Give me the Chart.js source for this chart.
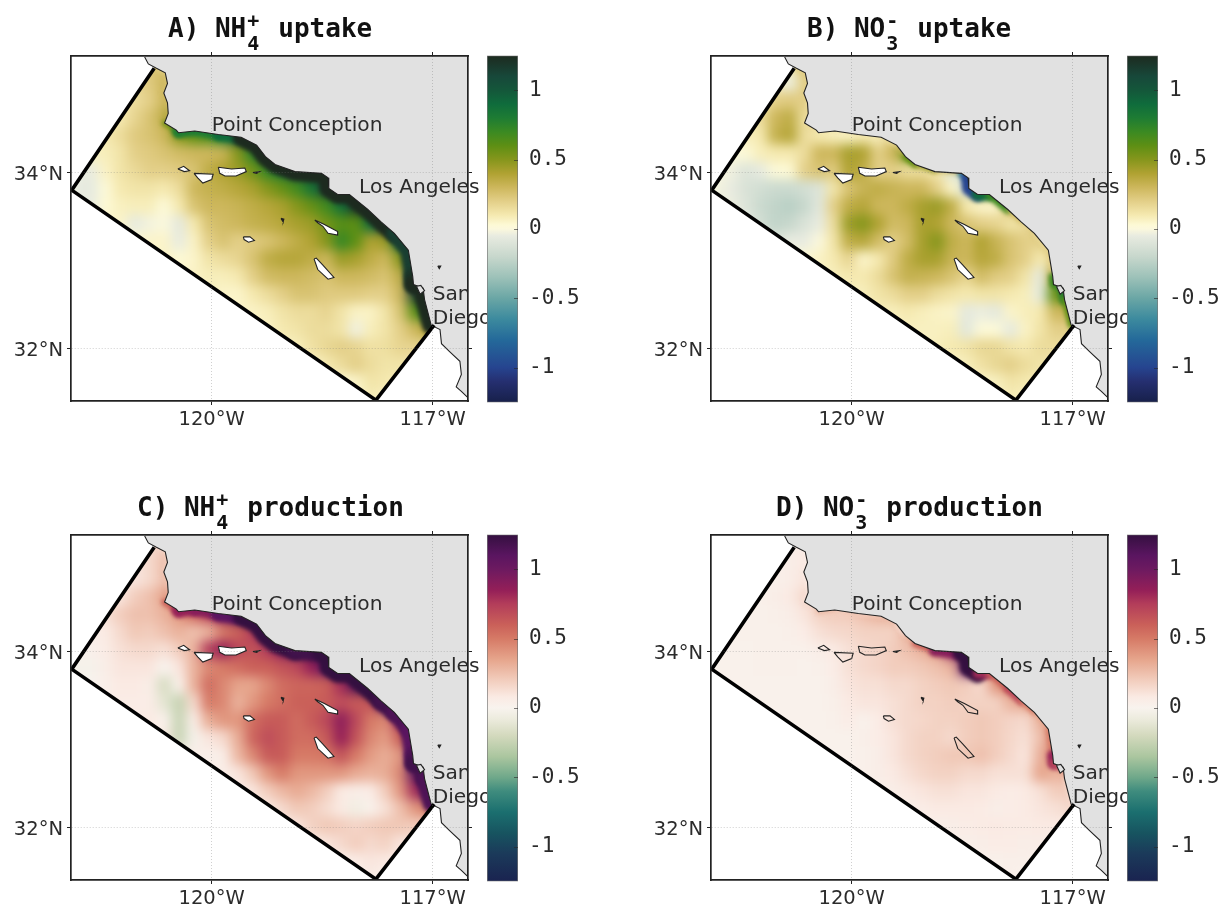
<!DOCTYPE html>
<html>
<head>
<meta charset="utf-8">
<title>NH4 and NO3 uptake and production</title>
<script src="https://cdn.jsdelivr.net/npm/chart.js@4"></script>
<style>
  body { margin: 0; background: #fff; }
  canvas { position: absolute; }
</style>
</head>
<body>
<script>
// tick labels
const lonTicks = [-120, -117];
const lonLabels = ['120°W', '117°W'];
const latTicks = [32, 34];
const latLabels = ['32°N', '34°N'];
const barTicks = [-1, -0.5, 0, 0.5, 1];

// place names
const placeNames = ['Point Conception', 'Los Angeles', 'San', 'Diego'];
const placeLon = [-120, -118, -117, -117];
const placeLat = [34.47, 33.77, 32.557, 32.285];

// model domain edge
const domainLon = [-120.78, -121.9, -117.77, -116.98];
const domainLat = [35.18, 33.8, 31.42, 32.27];
// the open side of the domain runs under the land
const openLon = [-116.5, -116.5, -120.78];
const openLat = [32.27, 35.32, 35.32];

// coastline, north to south
const coastLon = [-120.91, -120.86, -120.75, -120.63, -120.6, -120.65, -120.6, -120.59, -120.64, -120.48, -120.45, -120.23, -119.91, -119.6, -119.39, -119.27, -119.14, -118.87, -118.51, -118.42, -118.41, -118.29, -118.13, -117.88, -117.7, -117.52, -117.33, -117.27, -117.26, -117.13, -117.11, -117.02, -116.9, -116.88, -116.77, -116.63, -116.61, -116.68, -116.61, -116.51];
const coastLat = [35.31, 35.23, 35.18, 35.13, 35.01, 34.9, 34.79, 34.67, 34.56, 34.48, 34.45, 34.47, 34.43, 34.4, 34.31, 34.18, 34.09, 34.01, 33.99, 33.94, 33.82, 33.75, 33.75, 33.58, 33.44, 33.31, 33.12, 32.82, 32.73, 32.69, 32.56, 32.27, 32.22, 32.06, 31.97, 31.86, 31.71, 31.57, 31.52, 31.44];

// islands as lon,lat rings
const islandRings = [
  [[-120.46, 34.04], [-120.38, 34.07], [-120.3, 34.02], [-120.37, 34.01]],
  [[-120.24, 33.99], [-119.98, 33.98], [-120, 33.92], [-120.12, 33.88], [-120.19, 33.94]],
  [[-119.91, 34.06], [-119.73, 34.04], [-119.55, 34.05], [-119.53, 34.01], [-119.67, 33.96], [-119.82, 33.96], [-119.89, 33.99]],
  [[-119.44, 34], [-119.35, 34.01], [-119.39, 33.99]],
  [[-119.57, 33.27], [-119.48, 33.27], [-119.42, 33.23], [-119.5, 33.21], [-119.56, 33.24]],
  [[-118.6, 33.46], [-118.47, 33.41], [-118.29, 33.33], [-118.29, 33.29], [-118.42, 33.31], [-118.49, 33.39], [-118.56, 33.43]],
  [[-118.61, 33.02], [-118.56, 32.9], [-118.42, 32.79], [-118.34, 32.81], [-118.49, 32.95], [-118.58, 33.03]]
];
const rockRing = [[-119.06, 33.48], [-119.02, 33.47], [-119.03, 33.44]];
const bayRing = [[-117.22, 32.71], [-117.16, 32.72], [-117.11, 32.66], [-117.17, 32.62]];
const inlandDot = [[-116.93, 32.94], [-116.89, 32.94], [-116.91, 32.91]];

// field grid: lon and lat of the cells, and first column of every row
const gridLon = [-122, -121.8, -121.6, -121.4, -121.2, -121, -120.8, -120.6, -120.4, -120.2, -120, -119.8, -119.6, -119.4, -119.2, -119, -118.8, -118.6, -118.4, -118.2, -118, -117.8, -117.6, -117.4, -117.2, -117, -116.8];
const gridLat = [35.2, 35, 34.8, 34.6, 34.4, 34.2, 34, 33.8, 33.6, 33.4, 33.2, 33, 32.8, 32.6, 32.4, 32.2, 32, 31.8, 31.6, 31.4];
const rowStart = [5, 4, 3, 2, 1, 0, 0, 0, 1, 3, 4, 6, 8, 10, 11, 13, 15, 17, 19, 20];

// A) NH4 uptake
const uptakeNH4 = [
  [.15,.25,.25],
  [.15,.17,.22,.3],
  [.1,.1,.15,.2,.3],
  [.08,.08,.1,.18,.25,.35,.6],
  [.05,.07,.1,.15,.22,.25,.3,.5,.6,.65,.8,1.1,1.25],
  [.05,.05,.07,.08,.12,.2,.22,.25,.28,.3,.3,.32,.5,.75,1.2,1.25],
  [.02,-.04,-.05,.06,.12,.16,.2,.2,.22,.25,.35,.4,.45,.55,.72,.85,1.1,1.25,1.25,1.25],
  [0,-.05,-.06,.02,.1,.12,.12,.1,.15,.3,.33,.35,.38,.42,.5,.58,.68,.85,1.15,1.25,1.25],
  [-.04,-.05,.03,.07,.08,.08,.02,.1,.25,.3,.3,.32,.35,.38,.42,.5,.58,.68,.88,1.2,1.25,1.25],
  [.05,.05,-.06,-.02,0,-.07,.1,.25,.28,.3,.33,.35,.38,.42,.45,.55,.62,.6,.9,1.2,1.25],
  [.05,.03,.05,.05,-.05,.06,.2,.25,.2,.22,.25,.3,.35,.4,.5,.72,.6,.4,.45,.95,1.25],
  [.05,.06,.03,.05,.12,.15,.18,.25,.35,.38,.38,.35,.3,.45,.42,.35,.3,.5,1.2,1.25],
  [.05,.06,.08,.08,.1,.2,.28,.3,.3,.28,.25,.3,.3,.28,.25,.35,1.1,1.25],
  [.07,.05,.05,.1,.15,.2,.25,.25,.22,.22,.22,.2,.2,.3,1.15,1.25],
  [.06,.05,.06,.08,.12,.15,.15,.18,.12,.06,.06,.12,.25,.6,.9],
  [.06,.06,.1,.12,.15,.15,.12,-.03,.08,.12,.2,.3,.4],
  [.05,.08,.13,.17,.2,.18,.13,.14,.18,.18],
  [.05,.1,.15,.2,.15,.12,.12],
  [.03,.05,.12,.1],
  [.05,.08]
];

// B) NO3 uptake
const uptakeNO3 = [
  [.05,.1,.25],
  [.05,.05,-.04,.2],
  [.06,.08,.2,.22,.2],
  [.08,.1,.15,.3,.35,.15,.2],
  [.03,.06,.08,.1,.33,.38,.15,.1,.08,.06,.1,.08,.2],
  [.02,.02,.02,.02,.08,.1,.1,.15,.3,.3,.42,.4,.2,.3,.55,.5],
  [0,0,-.03,-.1,-.06,.02,.03,.2,.25,.22,.4,.35,.2,.2,.15,.15,.1,-.1,-.2,.5],
  [0,-.02,-.05,-.12,-.15,-.18,-.18,-.15,-.1,.12,.25,.32,.35,.32,.3,.3,.2,.05,-.15,.5,.4],
  [-.02,-.04,-.1,-.18,-.22,-.25,-.2,-.08,.2,.35,.38,.3,.3,.35,.42,.45,.35,.1,.05,.05,.3,.3],
  [-.05,-.15,-.22,-.2,-.12,-.05,.15,.45,.5,.4,.28,.3,.42,.4,.3,.25,.2,.18,.12,.15,.3],
  [-.05,-.1,-.05,-.05,0,.12,.35,.38,.28,.2,.28,.42,.5,.35,.3,.4,.32,.25,.2,.2,.3],
  [.02,.03,.06,.1,.18,.05,.1,.22,.35,.42,.42,.32,.3,.38,.35,.25,.2,.1,.2,.2],
  [.06,.08,.1,.1,.15,.25,.33,.32,.3,.25,.18,.28,.22,.2,.12,-.06,.4,.4],
  [.06,.08,.12,.15,.2,.2,.15,.12,.1,.12,.12,.1,.08,-.06,.6,.5],
  [.06,.08,.08,.1,.08,.06,.05,-.07,-.04,-.07,.05,.08,.1,.3,.3],
  [.06,.07,.07,.07,.08,-.08,.02,.02,-.06,.06,.12,.2,.2],
  [.05,.08,.1,.12,.17,.17,.12,.1,.15,.15],
  [.05,.08,.13,.17,.2,.15,.12],
  [.05,.07,.12,.1],
  [.06,.08]
];

// C) NH4 production
const productionNH4 = [
  [.1,.15,.2],
  [.06,.1,.15,.25],
  [.05,.08,.1,.15,.25],
  [.05,.06,.1,.2,.25,.35,.6],
  [.03,.05,.12,.2,.25,.25,.3,.4,.55,.7,.9,1.15,1.25],
  [.03,.03,.05,.07,.15,.22,.2,.25,.3,.25,.3,.5,.6,.75,1.1,1.25],
  [0,.02,.03,.06,.12,.15,.15,.12,.2,.3,.75,.85,.7,.65,.75,.9,1.15,1.25,1.25,1.25],
  [0,-.02,-.02,.05,.1,.1,.1,0,.1,.3,.45,.5,.55,.6,.6,.65,.7,.85,1.1,1.25,1.25],
  [0,0,.04,.08,.08,.05,-.18,.02,.3,.55,.45,.35,.35,.45,.55,.58,.58,.6,.8,1.15,1.25,1.25],
  [.04,.06,.06,.06,-.12,-.25,.15,.5,.45,.3,.4,.5,.55,.6,.6,.62,.68,.62,.65,1.1,1.25],
  [.05,.06,.08,.02,-.24,.05,.32,.4,.4,.55,.62,.62,.55,.62,.7,.88,.7,.5,.45,.8,1.25],
  [.05,.08,-.24,-.02,.1,.15,.32,.58,.68,.62,.55,.55,.62,.85,.65,.45,.38,.6,1.2,1.25],
  [.04,.05,.03,.05,.28,.45,.62,.62,.5,.5,.52,.65,.5,.38,.32,.4,1,1.25],
  [.05,.05,.1,.22,.4,.5,.4,.4,.4,.4,.33,.3,.32,.45,1.1,1.25],
  [.06,.06,.1,.2,.28,.33,.28,.2,.08,.05,.06,.2,.4,.8,1.1],
  [.07,.08,.15,.22,.2,.14,.08,-.05,.02,.12,.25,.4,.5],
  [.05,.1,.18,.22,.2,.17,.2,.22,.22,.2],
  [.05,.1,.15,.2,.15,.18,.1],
  [.03,.06,.1,.08],
  [.04,.05]
];

// D) NO3 production
const productionNO3 = [
  [.03,.05,.08],
  [.03,.04,.05,.08],
  [.02,.03,.04,.05,.1],
  [.02,.03,.03,.05,.08,.15,.2],
  [.02,.02,.03,.03,.04,.05,.1,.18,.2,.2,.25,.3,.3],
  [.02,.02,.02,.03,.03,.03,.04,.06,.12,.15,.16,.18,.18,.18,.3,.5],
  [.02,.02,.02,.02,.03,.03,.03,.03,.05,.08,.12,.15,.17,.2,.25,.3,.4,.9,1.25,.8],
  [.02,.02,.02,.02,.03,.03,.03,.02,.03,.06,.12,.15,.17,.2,.2,.22,.25,.3,1.1,.5,.4],
  [.02,.02,.02,.02,.02,.02,.02,.02,.05,.1,.12,.12,.15,.15,.18,.2,.22,.2,.15,.4,.5,.5],
  [.02,.02,.02,.02,.02,.02,.04,.08,.1,.1,.12,.15,.18,.18,.2,.18,.18,.18,.3,.35,.4],
  [.02,.02,.02,.02,.02,.03,.06,.02,.06,.12,.15,.16,.18,.18,.2,.22,.2,.17,.15,.3,.4],
  [.02,.02,.02,.02,.02,.04,.06,.1,.15,.18,.18,.15,.2,.22,.2,.16,.12,.25,.5,.5],
  [.02,.02,.02,.03,.05,.1,.15,.18,.2,.22,.22,.25,.2,.15,.1,.3,.5,.5],
  [.02,.03,.05,.08,.12,.16,.18,.18,.15,.15,.12,.12,.12,.35,.3,.3],
  [.02,.03,.05,.08,.1,.12,.12,.1,.1,.08,.06,.08,.12,.2,.2],
  [.03,.04,.06,.08,.08,.08,.07,.05,.06,.07,.1,.12,.15],
  [.03,.04,.05,.06,.07,.08,.07,.07,.08,.08],
  [.03,.04,.05,.06,.06,.05,.05],
  [.03,.03,.04,.04],
  [.03,.03]
];

// values in the narrow band right on the coast, one per coastline vertex
const coastNH4Uptake = [null,null,.2,.25,.25,.3,.3,.35,.55,.75,.8,.8,.9,1.25,1.25,1.25,1.25,1.25,1.25,1.25,1.25,1.25,1.25,1.25,1.25,1.15,1.15,1.2,1.25,1.25,1.25,.7,null,null,null,null,null,null,null,null];
const coastNO3Uptake = [null,null,.2,.2,.2,.2,.15,.15,.15,.1,.1,.12,.12,.15,.3,.6,.45,.3,-.7,-1,-1,.9,.7,.3,.2,.15,.2,.7,.7,.8,.6,.25,null,null,null,null,null,null,null,null];
const coastNH4Production = [null,null,.15,.2,.2,.25,.25,.35,.6,.8,.85,.9,1.1,1.25,1.25,1.25,1.25,1.2,1.25,1.25,1.25,1.25,1.25,1.25,1.2,1.15,1.1,1.15,1.2,1.2,1.15,.9,null,null,null,null,null,null,null,null];
const coastNO3Production = [null,null,.05,.08,.08,.08,.08,.1,.15,.25,.3,.25,.2,.25,.1,.3,.6,.9,1.25,1.25,1.25,.8,.6,.7,.5,.35,.5,.85,.7,.3,.15,.1,null,null,null,null,null,null,null,null];

// colour bars, value then colour
const deltaStops = [[-1.25,'#17204a'],[-1.1,'#252f70'],[-1,'#26448f'],[-.8,'#24699a'],[-.65,'#3c8a9e'],[-.5,'#6aa6a5'],[-.35,'#9cc1b8'],[-.2,'#c7d7cc'],[-.05,'#e8ebe0'],[0,'#fbf8dd'],[.03,'#fdf9d5'],[.1,'#f5e9b0'],[.2,'#e3cf88'],[.3,'#cdb75c'],[.4,'#b0a232'],[.5,'#86961c'],[.6,'#5e8f14'],[.7,'#3b8a22'],[.8,'#1e7c33'],[.9,'#0f6c3c'],[1,'#14573a'],[1.1,'#17483a'],[1.25,'#1d2a1f']];
const curlStops = [[-1.25,'#1a2350'],[-1.05,'#1b3a5a'],[-.9,'#175460'],[-.75,'#1b6f6f'],[-.6,'#3f8c7e'],[-.5,'#6fa88a'],[-.35,'#abc69f'],[-.2,'#d3d9bd'],[-.08,'#ecebdd'],[0,'#f8f3ee'],[.08,'#faeae3'],[.2,'#f2cdbd'],[.35,'#e6a58c'],[.5,'#d67a66'],[.6,'#ca6059'],[.75,'#b33d5a'],[.85,'#941f58'],[1,'#6d1a60'],[1.1,'#5a1560'],[1.25,'#341040']];

const panels = [
  { prefix: 'A) ', ion: 'NH', sup: '+', rest: 'uptake', titleX: 168, left: 0, top: 0, field: uptakeNH4, band: coastNH4Uptake, stops: deltaStops, islandFill: '#fff' },
  { prefix: 'B) ', ion: 'NO', sup: '-', rest: 'uptake', titleX: 167, left: 640, top: 0, field: uptakeNO3, band: coastNO3Uptake, stops: deltaStops, islandFill: '#fff' },
  { prefix: 'C) ', ion: 'NH', sup: '+', rest: 'production', titleX: 137, left: 0, top: 479, field: productionNH4, band: coastNH4Production, stops: curlStops, islandFill: '#fff' },
  { prefix: 'D) ', ion: 'NO', sup: '-', rest: 'production', titleX: 136, left: 640, top: 479, field: productionNO3, band: coastNO3Production, stops: curlStops, islandFill: null }
];

const landColor = '#e1e1e1';
const lineColor = '#222';
const gridColor = 'rgba(120,120,120,0.35)';
const textColor = '#2b2b2b';

function hexToRgb(h) {
  return [parseInt(h.slice(1, 3), 16), parseInt(h.slice(3, 5), 16), parseInt(h.slice(5, 7), 16)];
}

// linear lookup in a colour bar
function colorFor(stops, v) {
  if (v <= stops[0][0]) return stops[0][1];
  for (let i = 1; i < stops.length; i++) {
    if (v <= stops[i][0]) {
      const t = (v - stops[i - 1][0]) / (stops[i][0] - stops[i - 1][0]);
      const a = hexToRgb(stops[i - 1][1]);
      const b = hexToRgb(stops[i][1]);
      return 'rgb(' + a.map((c, k) => Math.round(c + (b[k] - c) * t)).join(',') + ')';
    }
  }
  return stops[stops.length - 1][1];
}

function toPoints(lons, lats) {
  return lons.map((x, i) => ({ x, y: lats[i] }));
}

function ringPoints(ring) {
  return ring.concat([ring[0]]).map(p => ({ x: p[0], y: p[1] }));
}

function fieldPoints(field) {
  const pts = [];
  field.forEach((row, r) => row.forEach((v, c) => {
    pts.push({ x: gridLon[rowStart[r] + c], y: gridLat[r], v });
  }));
  return pts;
}

function seaPath(chart) {
  const { ctx, scales } = chart;
  ctx.beginPath();
  domainLon.concat(openLon).forEach((lon, i) => {
    const lat = domainLat.concat(openLat)[i];
    ctx.lineTo(scales.x.getPixelForValue(lon), scales.y.getPixelForValue(lat));
  });
  ctx.closePath();
}

// the field cells are smoothed as one picture, then cut to the domain
const domainClip = {
  id: 'domainClip',
  beforeDatasetDraw(chart, args) {
    if (chart.data.datasets[args.index].label !== 'band') return;
    const { ctx } = chart;
    ctx.save();
    seaPath(chart);
    ctx.clip();
    ctx.filter = 'blur(2px)';
  },
  afterDatasetDraw(chart, args) {
    const name = chart.data.datasets[args.index].label;
    const { ctx } = chart;
    if (name === 'band') ctx.restore();
    if (name !== 'field') return;
    const copy = document.createElement('canvas');
    copy.width = ctx.canvas.width;
    copy.height = ctx.canvas.height;
    copy.getContext('2d').drawImage(ctx.canvas, 0, 0);
    ctx.save();
    ctx.clearRect(0, 0, copy.width, copy.height);
    ctx.filter = 'blur(6px)';
    ctx.drawImage(copy, 0, 0);
    ctx.filter = 'none';
    ctx.globalCompositeOperation = 'destination-in';
    seaPath(chart);
    ctx.fill();
    ctx.restore();
  }
};

// title with stacked ion charges and place names
const mapText = {
  id: 'mapText',
  afterDraw(chart) {
    const { ctx, scales } = chart;
    const p = chart.options.plugins.mapText.panel;
    ctx.save();
    ctx.fillStyle = '#111';
    ctx.textAlign = 'left';
    ctx.font = 'bold 26px "DejaVu Sans Mono"';
    const head = p.prefix + p.ion;
    ctx.fillText(head, p.titleX, 37);
    const x1 = p.titleX + ctx.measureText(head).width;
    ctx.fillText(p.rest, x1 + 32, 37);
    ctx.font = 'bold 20px "DejaVu Sans Mono"';
    ctx.fillText(p.sup, x1 + 1, 27);
    ctx.fillText(p.ion === 'NH' ? '4' : '3', x1 + 1, 50);
    ctx.fillStyle = textColor;
    ctx.font = '20.2px "DejaVu Sans"';
    placeNames.forEach((name, i) => {
      const x = scales.x.getPixelForValue(placeLon[i]);
      const y = scales.y.getPixelForValue(placeLat[i]);
      ctx.save();
      if (name === 'San') {
        ctx.beginPath();
        ctx.rect(x, y - 30, scales.x.right - x, 40);
        ctx.clip();
      }
      ctx.fillText(name, x, y);
      ctx.restore();
    });
    ctx.restore();
  }
};

function addCanvas(left, top, w, h) {
  const c = document.createElement('canvas');
  c.width = w;
  c.height = h;
  c.style.left = left + 'px';
  c.style.top = top + 'px';
  document.body.appendChild(c);
  return c.getContext('2d');
}

function fixedTicks(values) {
  return scale => { scale.ticks = values.map(value => ({ value })); };
}

function drawMap(p) {
  const band = [];
  const bandValues = [];
  p.band.forEach((v, i) => {
    if (v !== null) {
      band.push({ x: coastLon[i], y: coastLat[i] });
      bandValues.push(v);
    }
  });

  const landPts = toPoints(coastLon, coastLat).concat([{ x: -116.52, y: 31.44 }, { x: -116.52, y: 35.32 }, { x: -120.91, y: 35.32 }]);

  const islandSets = islandRings.map(ring => ({
    label: 'island', data: ringPoints(ring), showLine: true, pointRadius: 0, order: 3,
    borderColor: lineColor, borderWidth: 1.1, fill: p.islandFill ? 'shape' : false, backgroundColor: p.islandFill || 'transparent'
  }));

  new Chart(addCanvas(p.left, p.top, 487, 445), {
    type: 'scatter',
    data: {
      datasets: [
        { label: 'field', data: fieldPoints(p.field), order: 9, clip: false, pointStyle: 'rect', pointRadius: 15, pointBorderWidth: 0,
          pointBackgroundColor: fieldPoints(p.field).map(c => colorFor(p.stops, c.v)) },
        { label: 'band', data: band, order: 8, showLine: true, pointRadius: 0, borderCapStyle: 'round', borderJoinStyle: 'round', borderColor: '#000',
          segment: {
            borderColor: c => colorFor(p.stops, bandValues[c.p0DataIndex]),
            borderWidth: c => 3 + 18 * Math.max(0, Math.abs(bandValues[c.p0DataIndex]) - 0.4)
          } },
        { label: 'land', data: landPts, order: 7, showLine: true, pointRadius: 0, borderWidth: 0, fill: 'shape', backgroundColor: landColor },
        { label: 'coast', data: toPoints(coastLon, coastLat), order: 6, showLine: true, pointRadius: 0, borderColor: lineColor, borderWidth: 1.1 },
        { label: 'bay', data: ringPoints(bayRing), order: 5, showLine: true, pointRadius: 0, borderColor: lineColor, borderWidth: 1.1, fill: 'shape', backgroundColor: landColor },
        { label: 'dot', data: ringPoints(inlandDot), order: 5, showLine: true, pointRadius: 0, borderColor: lineColor, borderWidth: 1.1, fill: 'shape', backgroundColor: lineColor },
        { label: 'rock', data: ringPoints(rockRing), order: 3, showLine: true, pointRadius: 0, borderColor: lineColor, borderWidth: 1.1, fill: 'shape', backgroundColor: lineColor },
        ...islandSets,
        { label: 'domain', data: toPoints(domainLon, domainLat), order: 1, showLine: true, pointRadius: 0, borderColor: '#000', borderWidth: 3.6, borderCapStyle: 'butt' }
      ]
    },
    options: {
      responsive: false,
      animation: false,
      events: [],
      plugins: { legend: { display: false }, tooltip: { enabled: false }, mapText: { panel: p } },
      scales: {
        x: {
          type: 'linear', position: 'bottom', min: -121.91, max: -116.52,
          afterFit: s => { s.height = 44; },
          afterBuildTicks: fixedTicks(lonTicks),
          grid: { color: gridColor, z: 1, tickColor: lineColor, tickLength: 4 },
          border: { color: lineColor, width: 1.7, z: 2, dash: [1, 2] },
          ticks: { z: 1, maxRotation: 0, autoSkip: false, color: textColor, font: { family: 'DejaVu Sans', size: 19.5 }, padding: 3,
            callback: v => lonLabels[lonTicks.indexOf(v)] }
        },
        y: {
          type: 'linear', position: 'left', min: 31.41, max: 35.32,
          afterFit: s => { s.width = 71; },
          afterBuildTicks: fixedTicks(latTicks),
          grid: { color: gridColor, z: 1, tickColor: lineColor, tickLength: 4 },
          border: { color: lineColor, width: 1.7, z: 2, dash: [1, 2] },
          ticks: { z: 1, autoSkip: false, color: textColor, font: { family: 'DejaVu Sans', size: 19.5 }, padding: 4, labelOffset: 2,
            callback: v => latLabels[latTicks.indexOf(v)] }
        },
        x2: {
          type: 'linear', axis: 'x', position: 'top', min: -121.91, max: -116.52,
          afterFit: s => { s.height = 56; },
          afterBuildTicks: fixedTicks(lonTicks),
          grid: { drawOnChartArea: false, z: 1, tickColor: lineColor, tickLength: 4 },
          border: { color: lineColor, width: 1.7, z: 2 },
          ticks: { display: false, z: 1 }
        },
        y2: {
          type: 'linear', axis: 'y', position: 'right', min: 31.41, max: 35.32,
          afterFit: s => { s.width = 19; },
          afterBuildTicks: fixedTicks(latTicks),
          grid: { drawOnChartArea: false, z: 1, tickColor: lineColor, tickLength: 4 },
          border: { color: lineColor, width: 1.7, z: 2 },
          ticks: { display: false, z: 1 }
        }
      }
    },
    plugins: [domainClip, mapText]
  });
}

// short tick marks drawn inside the bar
const barTickMarks = {
  id: 'barTickMarks',
  afterDraw(chart) {
    const { ctx, scales, chartArea } = chart;
    ctx.save();
    ctx.strokeStyle = 'rgba(40,40,40,0.6)';
    ctx.lineWidth = 1;
    barTicks.forEach(t => {
      const y = Math.round(scales.y.getPixelForValue(t)) + 0.5;
      ctx.beginPath();
      ctx.moveTo(chartArea.right - 4, y);
      ctx.lineTo(chartArea.right, y);
      ctx.stroke();
    });
    ctx.restore();
  }
};

function drawColorBar(p) {
  new Chart(addCanvas(p.left + 487, p.top + 40, 115, 378), {
    type: 'bar',
    data: {
      labels: [''],
      datasets: [{
        data: [[-1.25, 1.25]],
        barPercentage: 1,
        categoryPercentage: 1,
        borderColor: '#777',
        borderWidth: 1,
        borderSkipped: false,
        backgroundColor: c => {
          const area = c.chart.chartArea;
          if (!area) return '#fff';
          const g = c.chart.ctx.createLinearGradient(0, area.bottom, 0, area.top);
          p.stops.forEach(s => g.addColorStop((s[0] + 1.25) / 2.5, s[1]));
          return g;
        }
      }]
    },
    options: {
      responsive: false,
      animation: false,
      events: [],
      layout: { padding: 0 },
      plugins: { legend: { display: false }, tooltip: { enabled: false } },
      scales: {
        x: { display: false },
        y: {
          position: 'right', min: -1.25, max: 1.25,
          afterFit: s => { s.width = 84; },
          afterBuildTicks: fixedTicks(barTicks),
          grid: { display: false },
          border: { display: false },
          ticks: { autoSkip: false, color: textColor, padding: 3, font: { family: 'DejaVu Sans Mono', size: 21 }, callback: v => String(v) }
        }
      }
    },
    plugins: [barTickMarks]
  });
}

panels.forEach(p => {
  drawMap(p);
  drawColorBar(p);
});
</script>
</body>
</html>
